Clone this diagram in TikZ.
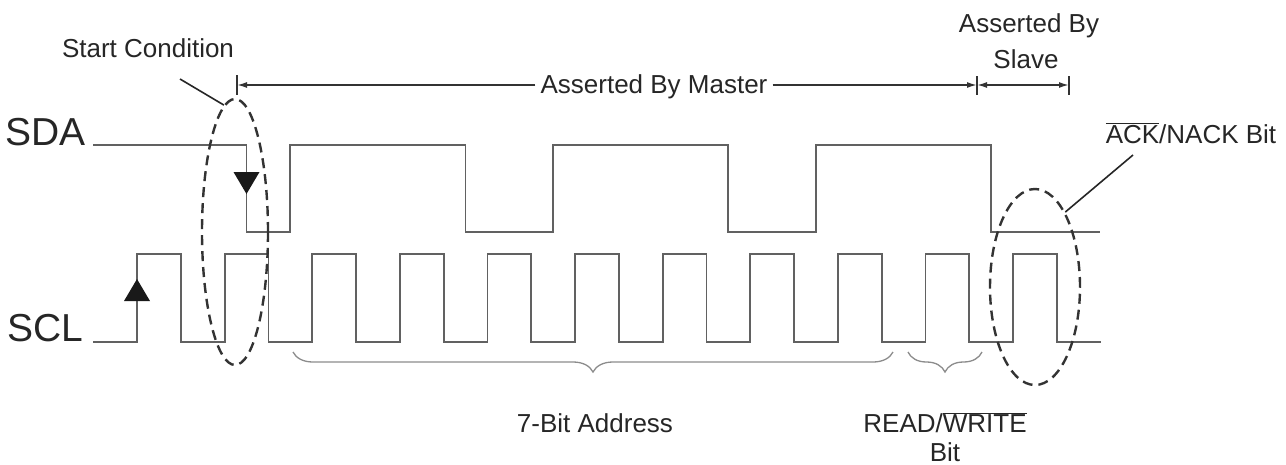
\documentclass[tikz,border=0pt]{standalone}
\usepackage{fontspec}
\setmainfont{Liberation Sans}
\usetikzlibrary{arrows.meta,decorations.pathreplacing,shapes.geometric,calc}
\begin{document}
\begin{tikzpicture}[x=1pt,y=-1pt,
  sig/.style={line width=1.8pt, draw=black!62, line join=miter},
  lbl/.style={inner sep=0pt, anchor=base, text=black!85, font=\fontsize{26}{30}\selectfont},
  big/.style={inner sep=0pt, anchor=base west, text=black!85, font=\fontsize{39}{44}\selectfont},
  ring/.style={draw=black!80, ellipse, line width=2.4pt, dash pattern=on 10pt off 6pt, inner sep=0pt},
  leader/.style={draw=black!85, line width=1.6pt},
  dimline/.style={draw=black!80, line width=1.6pt},
  tipr/.style={-{Latex[length=10pt,width=6pt]}},
  tipb/.style={{Latex[length=10pt,width=6pt]}-{Latex[length=10pt,width=6pt]}},
  tick/.style={draw=black!80, line width=1.6pt},
  bracestyle/.style={draw=black!45, line width=1.3pt, decorate, decoration={brace, mirror, amplitude=20pt}},
  head/.style={fill=black!90, draw=none}
]
\useasboundingbox[fill=white] (0,0) rectangle (1286,464);

% labels
\node[big] (sda) at (5,145) {SDA};
\node[big] (scl) at (7,341) {SCL};
\node[lbl] (start) at (148,57) {Start Condition};
\node[lbl, inner xsep=5pt] (master) at (654,93) {Asserted By Master};
\node[lbl] (slave1) at (1029,32) {Asserted By};
\node[lbl] (slave2) at (1026,68) {Slave};
\node[lbl] (ack) at (1191,143) {$\overline{\mbox{ACK}}$/NACK Bit};
\node[lbl] (addr) at (595,432) {7-Bit Address};
\node[lbl] (rw1) at (945,432) {READ/$\overline{\mbox{WRITE}}$};
\node[lbl] (rw2) at (945,461) {Bit};

% SDA signal
\draw[sig] (93,145) -- (246.5,145) -- (246.5,232) -- (290.3,232) -- (290.3,145)
  -- (465.5,145) -- (465.5,232) -- (553.1,232) -- (553.1,145)
  -- (728.3,145) -- (728.3,232) -- (815.9,232) -- (815.9,145)
  -- (991.1,145) -- (991.1,232) -- (1100,232);

% SCL signal
\draw[sig] (93,342) -- (137,342)
  \foreach \k in {0,...,10}{
    -- ({137+87.6*\k},254) -- ({180.8+87.6*\k},254) -- ({180.8+87.6*\k},342)
    -- ({224.6+87.6*\k},342)
  };

% edge markers
\fill[head] (246.5,194) -- (233.5,172) -- (259.5,172) -- cycle;
\fill[head] (137,279) -- (124,301) -- (150,301) -- cycle;

% dashed rings
\node[ring, minimum width=66pt, minimum height=266pt] (startring) at (235,232) {};
\node[ring, minimum width=90pt, minimum height=196pt] (ackring) at (1035,287) {};

% leaders
\coordinate (startlead) at (180,79);
\coordinate (acklead) at (1133,155);
\draw[leader] (startlead) -- (startring.95);
\draw[leader] (acklead) -- (ackring.68);

% dimension lines
\coordinate (mL) at (237,85);
\coordinate (mR) at (977,85);
\coordinate (sR) at (1069,85);
\draw[dimline, tipr] (master.west |- mL) -- (mL);
\draw[dimline, tipr] (master.east |- mR) -- (mR);
\draw[dimline, tipb] (mR) -- (sR);
\draw[tick] ($(mL)+(0,-10)$) -- ($(mL)+(0,10)$);
\draw[tick] ($(mR)+(0,-9)$) -- ($(mR)+(0,10)$);
\draw[tick] ($(sR)+(0,-9)$) -- ($(sR)+(0,10)$);

% braces
\coordinate (aL) at (293,352);
\coordinate (aR) at (893,352);
\coordinate (bL) at (908,352);
\coordinate (bR) at (982,352);
\draw[bracestyle] (aL) -- (aR);
\draw[bracestyle] (bL) -- (bR);
\end{tikzpicture}
\end{document}
